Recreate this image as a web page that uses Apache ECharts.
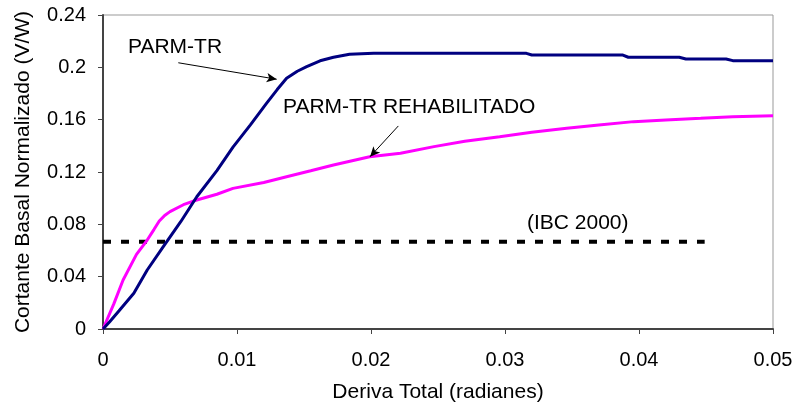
<!DOCTYPE html>
<html>
<head>
<meta charset="utf-8">
<script src="https://cdn.jsdelivr.net/npm/echarts@6/dist/echarts.min.js"></script>
<style>
  html, body { margin: 0; padding: 0; background: #fff; }
  #chart { width: 796px; height: 404px; }
</style>
</head>
<body>
<div id="chart"></div>
<script>
// deriva total (rad) vs cortante basal normalizado
const parmTrX = [0, 0.0005, 0.0012, 0.0023, 0.0033, 0.0045, 0.0058, 0.0070, 0.0085, 0.0097, 0.0110, 0.0122, 0.0130, 0.0137, 0.0145, 0.0152, 0.0162, 0.0172, 0.0184, 0.0202, 0.0316, 0.0320, 0.0388, 0.0392, 0.0430, 0.0435, 0.0465, 0.0470, 0.0500];
const parmTrY = [0, 0.0056, 0.014, 0.0273, 0.0451, 0.0629, 0.082, 0.1011, 0.121, 0.139, 0.156, 0.1725, 0.183, 0.1916, 0.197, 0.2005, 0.205, 0.2077, 0.2100, 0.2107, 0.2107, 0.2094, 0.2094, 0.2077, 0.2077, 0.2064, 0.2064, 0.2051, 0.2051];

const rehabX = [0, 0.0008, 0.0015, 0.0025, 0.0033, 0.0038, 0.0042, 0.0046, 0.0050, 0.0060, 0.0070, 0.0085, 0.0097, 0.0120, 0.0137, 0.0155, 0.0172, 0.0199, 0.0222, 0.0247, 0.0270, 0.0296, 0.0320, 0.0346, 0.0370, 0.0396, 0.0420, 0.0446, 0.0470, 0.0500];
const rehabY = [0, 0.019, 0.0375, 0.057, 0.068, 0.076, 0.0825, 0.0868, 0.0897, 0.095, 0.0986, 0.103, 0.1075, 0.112, 0.1164, 0.121, 0.1254, 0.1317, 0.1343, 0.1394, 0.1435, 0.147, 0.1503, 0.1534, 0.156, 0.1585, 0.1598, 0.161, 0.1623, 0.163];

const ibcX = [0, 0.0449];
const ibcY = [0.0667, 0.0667];

const yTicks = [0, 0.04, 0.08, 0.12, 0.16, 0.2, 0.24];
const xTicks = [0, 0.01, 0.02, 0.03, 0.04, 0.05];

// annotation arrows in data units: [fromX, fromY, toX, toY]
const arrowParm = [0.00562, 0.2035, 0.01296, 0.1909];
const arrowRehab = [0.02204, 0.1552, 0.01993, 0.1317];

const labels = [
  { text: 'PARM-TR', left: 128, top: 37 },
  { text: 'PARM-TR REHABILITADO', left: 283, top: 97 },
  { text: '(IBC 2000)', left: 527, top: 213 },
];

function zip(xs, ys) {
  return xs.map((x, i) => [x, ys[i]]);
}

function arrowLine(a) {
  return {
    silent: true,
    symbol: ['none', 'arrow'],
    symbolSize: [7, 10],
    label: { show: false },
    lineStyle: { color: '#000', width: 1, type: 'solid' },
    data: [[{ coord: [a[0], a[1]] }, { coord: [a[2], a[3]] }]],
  };
}

const font = 'Liberation Sans, Arial, sans-serif';
const chart = echarts.init(document.getElementById('chart'), null, { renderer: 'canvas' });

chart.setOption({
  animation: false,
  backgroundColor: '#fff',
  grid: {
    left: 103, right: 23, top: 15, bottom: 75,
    outerBoundsMode: 'none', containLabel: false,
    show: true, borderColor: '#999', borderWidth: 1,
  },
  xAxis: {
    type: 'value',
    min: 0,
    max: 0.05,
    interval: 0.01,
    name: 'Deriva Total (radianes)',
    nameLocation: 'middle',
    nameGap: 53,
    nameTextStyle: { fontFamily: font, fontSize: 21, color: '#000' },
    axisLine: { lineStyle: { color: '#444', width: 2 } },
    axisTick: { show: true, length: 5, lineStyle: { color: '#444' } },
    axisLabel: { fontFamily: font, fontSize: 20, color: '#000', margin: 21, formatter: (v) => xTicks.includes(+v.toFixed(2)) ? String(+v.toFixed(2)) : '' },
    splitLine: { show: false },
  },
  yAxis: {
    type: 'value',
    min: 0,
    max: 0.24,
    interval: 0.04,
    name: 'Cortante Basal Normalizado (V/W)',
    nameLocation: 'middle',
    nameGap: 69,
    nameTextStyle: { fontFamily: font, fontSize: 21, color: '#000' },
    axisLine: { show: true, lineStyle: { color: '#444', width: 2 } },
    axisTick: { show: true, length: 5, lineStyle: { color: '#444' } },
    axisLabel: { fontFamily: font, fontSize: 20, color: '#000', margin: 17, formatter: (v) => yTicks.includes(+v.toFixed(2)) ? String(+v.toFixed(2)) : '' },
    splitLine: { show: false },
  },
  series: [
    {
      name: 'IBC 2000',
      type: 'line',
      data: zip(ibcX, ibcY),
      showSymbol: false,
      lineStyle: { color: '#000', width: 4, type: [8, 10] },
    },
    {
      name: 'PARM-TR REHABILITADO',
      type: 'line',
      data: zip(rehabX, rehabY),
      showSymbol: false,
      lineStyle: { color: '#ff00ff', width: 3 },
      markLine: arrowLine(arrowRehab),
    },
    {
      name: 'PARM-TR',
      type: 'line',
      data: zip(parmTrX, parmTrY),
      showSymbol: false,
      lineStyle: { color: '#000080', width: 3 },
      markLine: arrowLine(arrowParm),
    },
  ],
  graphic: labels.map((l) => ({
    type: 'text',
    left: l.left,
    top: l.top,
    style: { text: l.text, font: '21px ' + font, fill: '#000' },
  })),
});
</script>
</body>
</html>
